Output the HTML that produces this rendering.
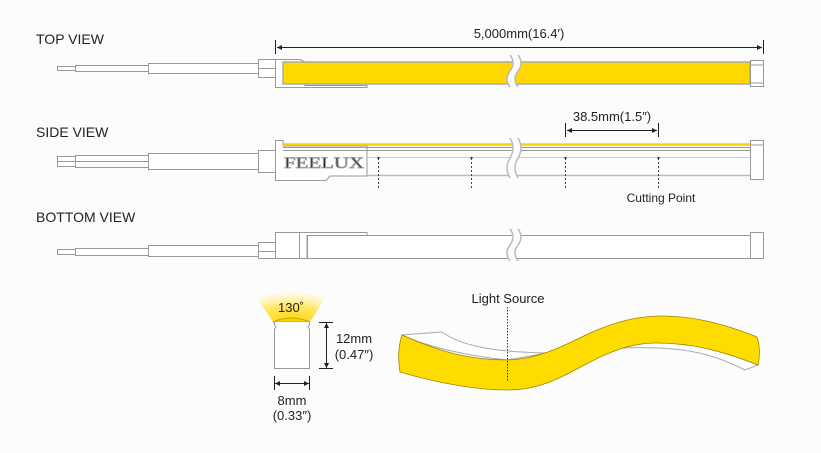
<!DOCTYPE html>
<html><head><meta charset="utf-8"><style>
html,body{margin:0;padding:0;background:#fcfcfc;}
svg{display:block;}
text{font-family:"Liberation Sans",sans-serif;fill:#222;}
</style></head><body>
<svg width="821" height="453" viewBox="0 0 821 453" xmlns="http://www.w3.org/2000/svg">
<rect width="821" height="453" fill="#fcfcfc"/>
<defs>
<radialGradient id="cone" cx="0.5" cy="1" r="1"><stop offset="0" stop-color="#ffd400"/><stop offset="0.55" stop-color="#ffe86a"/><stop offset="1" stop-color="#fff8d0" stop-opacity="0.3"/></radialGradient>
</defs>
<g stroke="#999" stroke-width="1" fill="#fff">
<!-- TOP VIEW -->
<rect x="57.5" y="66.5" width="18" height="4"/>
<rect x="75.5" y="65.5" width="73" height="6"/>
<rect x="148.5" y="63.5" width="110" height="10"/>
<rect x="258.5" y="59.5" width="17" height="18"/>
<line x1="258" y1="68.5" x2="275" y2="68.5"/>
<path d="M275.5,59.5 H300 L305,62 V85.5 H367 V87.5 H275.5Z"/>
<rect x="283" y="62" width="467" height="22" fill="#ffd800" stroke="#aaa" stroke-width="1.5"/>
<rect x="750.5" y="60.5" width="13" height="26"/>
<line x1="751" y1="65" x2="763" y2="65"/>
<line x1="751" y1="83" x2="763" y2="83"/>
<!-- SIDE VIEW -->
<rect x="57.5" y="156.5" width="18" height="5"/>
<rect x="57.5" y="161.5" width="18" height="5"/>
<rect x="75.5" y="155.5" width="73" height="12"/>
<line x1="75" y1="161.5" x2="258" y2="161.5"/>
<rect x="148.5" y="153.5" width="110" height="16"/>
<rect x="258.5" y="150.5" width="17" height="22"/>
<path d="M275.5,140.5 H283 V146 H367 V176 H330 L326,180.5 H275.5Z"/>
<line x1="283" y1="144.5" x2="750" y2="144.5" stroke="#ffd000" stroke-width="2.5"/>
<line x1="283" y1="147.5" x2="750" y2="147.5"/>
<line x1="283" y1="150.5" x2="750" y2="150.5"/>
<line x1="367" y1="157.5" x2="750" y2="157.5" stroke="#ccc"/>
<line x1="367" y1="175.5" x2="750" y2="175.5" stroke="#bbb" stroke-width="1.5"/>
<rect x="750.5" y="140.5" width="13" height="39"/>
<line x1="751" y1="145" x2="763" y2="145"/>
<!-- BOTTOM VIEW -->
<rect x="57.5" y="249.5" width="18" height="5"/>
<rect x="75.5" y="248.5" width="73" height="7"/>
<rect x="148.5" y="245.5" width="110" height="11"/>
<rect x="258.5" y="242.5" width="17" height="16"/>
<line x1="258" y1="251.5" x2="275" y2="251.5"/>
<path d="M367,232.5 H275.5 V258.5 H307 V235.5 H367Z"/>
<line x1="299.5" y1="233" x2="299.5" y2="258"/>
<rect x="307.5" y="235.5" width="443" height="23"/>
<rect x="750.5" y="232.5" width="13" height="26"/>
</g>
<!-- breaks -->
<g stroke="#bbb" stroke-width="1.5" fill="#fcfcfc">
<path d="M510,55 q6,8 0,16 q-6,8 0,16 L518,87 q-6,-8 0,-16 q6,-8 0,-16z" stroke="none"/>
<path d="M510,55 q6,8 0,16 q-6,8 0,16 M518,55 q6,8 0,16 q-6,8 0,16" fill="none"/>
<path d="M510,138 q6,10 0,20 q-6,10 0,20 L518,178 q-6,-10 0,-20 q6,-10 0,-20z" stroke="none"/>
<path d="M510,138 q6,10 0,20 q-6,10 0,20 M518,138 q6,10 0,20 q-6,10 0,20" fill="none"/>
<path d="M510,229 q6,8 0,16 q-6,8 0,16 L518,261 q-6,-8 0,-16 q6,-8 0,-16z" stroke="none"/>
<path d="M510,229 q6,8 0,16 q-6,8 0,16 M518,229 q6,8 0,16 q-6,8 0,16" fill="none"/>
</g>
<text x="284" y="168" font-size="16" fill="#fff" stroke="#999" stroke-width="0.8" textLength="80" lengthAdjust="spacingAndGlyphs" style="font-family:'Liberation Serif',serif">FEELUX</text>
<!-- cutting points -->
<g stroke="#444" stroke-width="1" stroke-dasharray="2,2">
<line x1="378.5" y1="158" x2="378.5" y2="188"/>
<line x1="471.5" y1="158" x2="471.5" y2="188"/>
<line x1="565.5" y1="158" x2="565.5" y2="188"/>
<line x1="658.5" y1="158" x2="658.5" y2="188"/>
</g>
<g fill="#444"><circle cx="378.5" cy="158" r="1.2"/><circle cx="471.5" cy="158" r="1.2"/><circle cx="565.5" cy="158" r="1.2"/><circle cx="658.5" cy="158" r="1.2"/></g>
<!-- dimension lines -->
<g stroke="#222" stroke-width="1">
<line x1="275.5" y1="40" x2="275.5" y2="54"/>
<line x1="763.5" y1="40" x2="763.5" y2="54"/>
<line x1="277" y1="47.5" x2="762" y2="47.5"/>
<line x1="565.5" y1="123" x2="565.5" y2="137"/>
<line x1="658.5" y1="123" x2="658.5" y2="137"/>
<line x1="567" y1="130.5" x2="657" y2="130.5"/>
</g>
<path d="M277,47.5 l5,-2.5 v5z M762,47.5 l-5,-2.5 v5z M567,130.5 l5,-2.5 v5z M657,130.5 l-5,-2.5 v5z" fill="#222"/>
<text x="36" y="44" font-size="14">TOP VIEW</text>
<text x="36" y="137" font-size="14">SIDE VIEW</text>
<text x="36" y="222" font-size="14">BOTTOM VIEW</text>
<text x="519" y="38" font-size="13" text-anchor="middle">5,000mm(16.4′)</text>
<text x="612" y="121" font-size="13" text-anchor="middle">38.5mm(1.5″)</text>
<text x="661" y="202" font-size="12" text-anchor="middle">Cutting Point</text>
<!-- cross section -->
<path d="M257,298 Q291,285 325,298 L310,322 L273,322Z" fill="url(#cone)"/>
<path d="M273,322 Q291,314 310,322 Z" fill="#ffd400" stroke="#c9a800"/>
<path d="M274.5,322 v3 q3,2 0,4 V368.5 H309.5 V329 q-3,-2 0,-4 v-3" fill="#fff" stroke="#999"/>
<text x="291" y="312" font-size="13" text-anchor="middle">130˚</text>
<g stroke="#222"><line x1="319" y1="322.5" x2="333" y2="322.5"/><line x1="319" y1="368.5" x2="333" y2="368.5"/><line x1="326.5" y1="323" x2="326.5" y2="368"/>
<line x1="274.5" y1="376" x2="274.5" y2="390"/><line x1="309.5" y1="376" x2="309.5" y2="390"/><line x1="275" y1="383.5" x2="309" y2="383.5"/></g>
<path d="M326.5,323 l-2.5,5 h5z M326.5,368 l-2.5,-5 h5z M275,383.5 l5,-2.5 v5z M309,383.5 l-5,-2.5 v5z" fill="#222"/>
<text x="354" y="343" font-size="13" text-anchor="middle">12mm</text>
<text x="354" y="359" font-size="13" text-anchor="middle">(0.47″)</text>
<text x="292" y="405" font-size="13" text-anchor="middle">8mm</text>
<text x="292" y="420" font-size="13" text-anchor="middle">(0.33″)</text>
<!-- wave -->
<path d="M402,335 L442,332 C460,345 490,352 547,353 L507,360 C470,356 430,348 402,335Z" fill="#fff" stroke="#aaa"/>
<path d="M620,346 C660,338 700,342 758,365 L745,370 C710,352 680,346 620,348Z" fill="#fff" stroke="#aaa"/>
<path d="M402,335 C440,352 470,360 507,360 C540,359 565,345 590,333 C620,320 640,316 663,316 C690,316 720,322 757,337 C760,346 760,356 758,365 C720,350 690,343 657,343 C630,343 610,352 590,362 C560,378 540,390 507,390 C480,390 440,384 400,372 C398,360 398,347 402,335Z" fill="#ffdc00" stroke="#998800" stroke-width="0.8"/>
<line x1="507.5" y1="307" x2="507.5" y2="382" stroke="#333" stroke-dasharray="1.5,1.5"/>
<text x="508" y="303" font-size="13" text-anchor="middle">Light Source</text>
</svg>
</body></html>
